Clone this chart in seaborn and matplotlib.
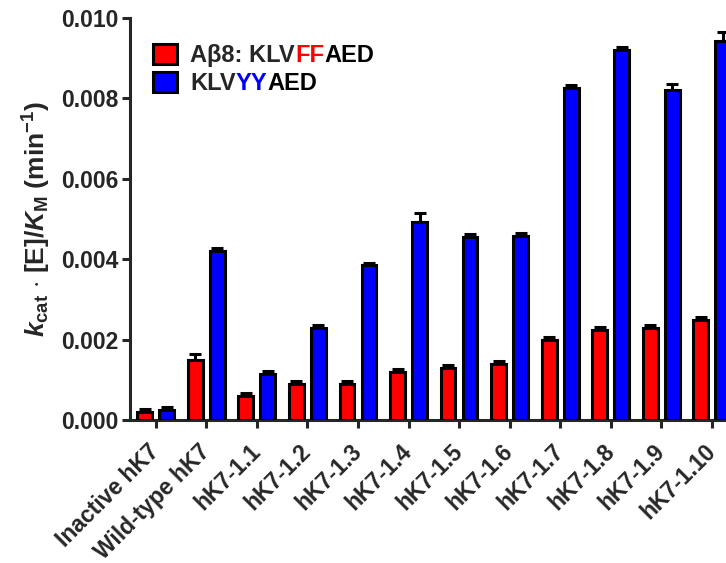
import pandas as pd
import matplotlib.pyplot as plt
import matplotlib.ticker as mticker
from matplotlib.patches import Patch
import seaborn as sns

# --- Data ---
enzymes = ["Inactive hK7", "Wild-type hK7", "hK7-1.1", "hK7-1.2", "hK7-1.3", "hK7-1.4",
           "hK7-1.5", "hK7-1.6", "hK7-1.7", "hK7-1.8", "hK7-1.9", "hK7-1.10"]
ff_vals = [0.00019, 0.00149, 0.00060, 0.00090, 0.00090, 0.00119,
           0.00129, 0.00139, 0.00198, 0.00224, 0.00228, 0.00248]
ff_err = [0.00008, 0.00015, 0.00007, 0.00006, 0.00006, 0.00007,
          0.00007, 0.00007, 0.00008, 0.00008, 0.00008, 0.00009]
yy_vals = [0.00024, 0.00420, 0.00114, 0.00230, 0.00385, 0.00493,
           0.00455, 0.00458, 0.00825, 0.00920, 0.00820, 0.00944]
yy_err = [0.00008, 0.00007, 0.00008, 0.00006, 0.00006, 0.00023,
          0.00007, 0.00008, 0.00008, 0.00008, 0.00016, 0.00022]
peptides = ["FF", "YY"]
colors = {"FF": "#ff0000", "YY": "#0000ff"}

df = pd.DataFrame({
    "enzyme": enzymes * 2,
    "peptide": ["FF"] * len(enzymes) + ["YY"] * len(enzymes),
    "value": ff_vals + yy_vals,
})

# --- Style ---
sns.set_style("ticks")
plt.rcParams["font.family"] = ["Liberation Sans", "DejaVu Sans"]
plt.rcParams["font.weight"] = "bold"
plt.rcParams["mathtext.fontset"] = "custom"
plt.rcParams["mathtext.rm"] = "Liberation Sans:bold"
plt.rcParams["mathtext.it"] = "Liberation Sans:bold:italic"
plt.rcParams["mathtext.bf"] = "Liberation Sans:bold"

fig = plt.figure(figsize=(7.26, 5.63), dpi=100)
ax = fig.add_axes([0.179, 0.254, 0.821, 0.714])

sns.barplot(data=df, x="enzyme", y="value", hue="peptide", hue_order=peptides,
            palette=colors, saturation=1, width=0.87, gap=0.33, edgecolor="black",
            linewidth=2.2, errorbar=None, legend=False, ax=ax, zorder=3)

# upward-only error bars, placed at the bar centres
for cont, err in zip(ax.containers, [ff_err, yy_err]):
    xs = [b.get_x() + b.get_width() / 2 for b in cont]
    ys = [b.get_height() for b in cont]
    ax.errorbar(xs, ys, yerr=[[0] * len(err), err], fmt="none", ecolor="black",
                elinewidth=2.2, capsize=4, capthick=2.2, zorder=2)

# --- Axes ---
ax.set_ylim(0, 0.010)
ax.set_xlim(-0.51, 11.28)
ax.yaxis.set_major_locator(mticker.MultipleLocator(0.002))
ax.yaxis.set_major_formatter(mticker.FormatStrFormatter("%.3f"))
sns.despine(ax=ax)
for s in ["left", "bottom"]:
    ax.spines[s].set_linewidth(2.2)
ax.tick_params(axis="both", width=2.2, length=6)
ax.tick_params(axis="y", labelsize=16.5, pad=2)
ax.tick_params(axis="x", labelsize=16.5, pad=14)
for lab in ax.get_xticklabels():
    lab.set_rotation(45)
    lab.set_ha("right")
    lab.set_va("center")
    lab.set_rotation_mode("anchor")
    lab.set_fontweight("bold")
plt.setp(ax.get_yticklabels(), fontweight="bold")
ax.set_xlabel("")
ax.set_ylabel(r"$k_{\mathrm{cat}}$ $\cdot$ [E]/$K_{\mathrm{M}}$ (min$^{\mathrm{-1}}$)",
              fontsize=19, fontweight="bold", labelpad=6)

# --- Legend with coloured residues ---
handles = [Patch(facecolor=colors[p], edgecolor="black", linewidth=2.2) for p in peptides]
leg = ax.legend(handles, ["A\u03b28: KLV", "KLV"], loc="upper left",
                bbox_to_anchor=(0.022, 0.958), frameon=False, fontsize=17,
                handlelength=1.05, handleheight=0.9, handletextpad=0.55,
                labelspacing=0.2, borderaxespad=0)
for t in leg.get_texts():
    t.set_fontweight("bold")

fig.canvas.draw()
for t, p in zip(leg.get_texts(), peptides):
    bb = t.get_window_extent()
    a1 = ax.annotate(p, xy=(bb.x1, bb.y0), xycoords="figure pixels", va="bottom",
                     ha="left", color=colors[p], fontsize=17, fontweight="bold")
    ax.annotate("AED", xy=(1, 0), xycoords=a1, va="bottom", ha="left",
                color="black", fontsize=17, fontweight="bold")

fig.savefig("out.png", dpi=100, facecolor="white")
